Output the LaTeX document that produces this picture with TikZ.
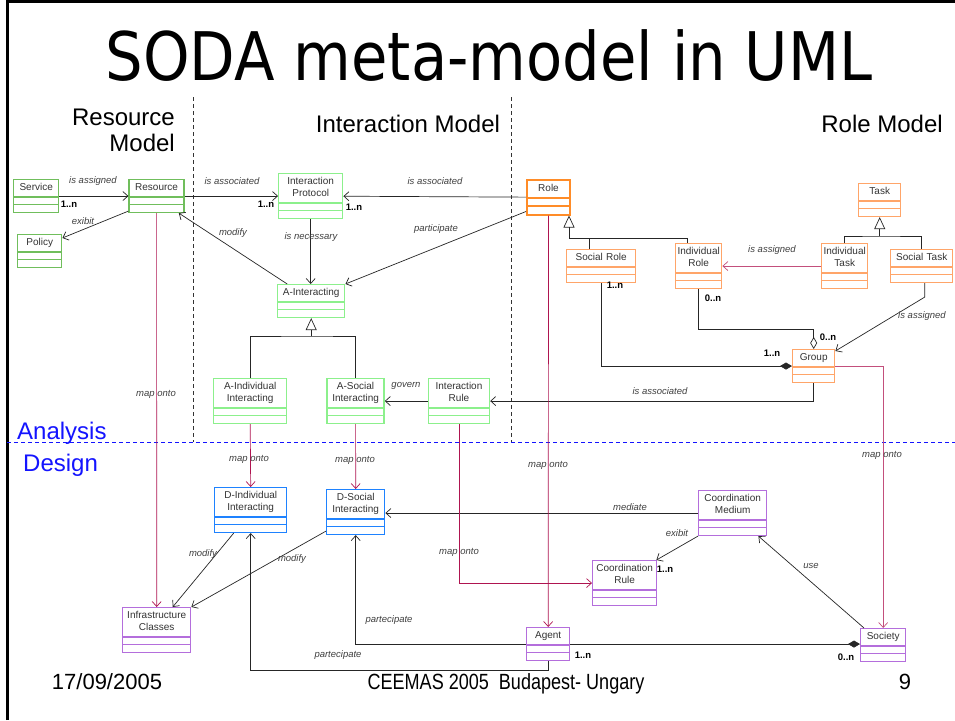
\documentclass[tikz,border=0pt]{standalone}
\usepackage{fontspec}
\setmainfont{Liberation Sans}
\newfontfamily\titlefont{DejaVu Sans}
\usetikzlibrary{positioning}
\usetikzlibrary{shapes.multipart}
\usetikzlibrary{arrows.meta, calc}
\definecolor{ResGreen}{RGB}{112,190,92}
\definecolor{IntGreen}{RGB}{140,240,140}
\definecolor{RoleOrange}{RGB}{255,140,40}
\definecolor{RoleLight}{RGB}{255,165,105}
\definecolor{DesBlue}{RGB}{30,130,255}
\definecolor{DesPurple}{RGB}{180,110,220}
\definecolor{MapRed}{RGB}{175,20,80}
\definecolor{TextBlue}{RGB}{20,20,255}
% class name plus two empty compartments
\newcommand{\umlcls}[1]{\strut#1\strut\nodepart{two}\rule{0pt}{2pt}\nodepart{three}\rule{0pt}{2.5pt}}

\begin{document}
\begin{tikzpicture}[x=1pt, y=-1pt,
	cls/.style={rectangle split, rectangle split parts=3, draw, fill=white, line width=1.4pt,
		anchor=north west, align=center, text width=#1pt, inner xsep=1pt, inner ysep=2pt,
		font=\fontsize{10}{12}\selectfont, text=black!80},
	plain/.style={draw=black!85, line width=0.7pt},
	assoc/.style={plain, -{Straight Barb[length=5pt, width=9pt, line width=0.7pt]}},
	mapto/.style={assoc, draw=MapRed},
	gen/.style={plain, -{Triangle[open, length=12pt, width=11pt]}},
	aggr/.style={plain, -{Diamond[open, length=12pt, width=7pt]}},
	comp/.style={plain, -{Diamond[length=12pt, width=7pt]}},
	lbl/.style={font=\fontsize{9.5}{11}\selectfont\itshape, text=black!75, inner sep=0pt},
	mult/.style={font=\fontsize{9.5}{11}\selectfont\bfseries, inner sep=0pt},
	head/.style={font=\fontsize{24}{26}\selectfont, inner sep=0pt},
	foot/.style={font=\fontsize{22}{24}\selectfont, anchor=base, inner sep=0pt}]

	\useasboundingbox[fill=white] (0,0) rectangle (955,720);
	\draw[line width=3pt] (7.5,720) -- (7.5,1.5) -- (955,1.5);

	% Headings
	\node[font=\titlefont\fontsize{67}{70}\selectfont, xscale=0.884, anchor=base, inner sep=0pt] (title) at (489,80) {SODA meta-model in UML};
	\node[head, align=right, anchor=north east] (hres) at (175,109) {Resource\\Model};
	\node[head, anchor=base] (hint) at (408,132) {Interaction Model};
	\node[head, anchor=base east] (hrole) at (943,132) {Role Model};

	% Separators
	\draw[black!80, dash pattern=on 4pt off 3pt] (193,97) -- (193,442);
	\draw[black!80, dash pattern=on 4pt off 3pt] (511,97) -- (511,442);
	\draw[TextBlue, dash pattern=on 4pt off 3pt] (7,442) -- (955,442);
	\node[head, text=TextBlue, anchor=base west] (lana) at (17,439) {Analysis};
	\node[head, text=TextBlue, anchor=base west] (ldes) at (23,471) {Design};

	% Resource model
	\node[cls=43, draw=ResGreen] (service) at (13,179) {\umlcls{Service}};
	\node[cls=53, draw=ResGreen, right=69pt of service] (resource) {\umlcls{Resource}};
	\node[cls=42, draw=ResGreen] (policy) at (17,234) {\umlcls{Policy}};

	% Interaction model
	\node[cls=62, draw=IntGreen] (iprot) at (278,173) {\umlcls{Interaction\\Protocol}};
	\node[cls=65, draw=IntGreen] (ainter) at (277,284) {\umlcls{A-Interacting}};
	\node[cls=71, draw=IntGreen] (aind) at (213,378) {\umlcls{A-Individual\\Interacting}};
	\node[cls=55, draw=IntGreen, right=39pt of aind] (asoc) {\umlcls{A-Social\\Interacting}};
	\node[cls=59, draw=IntGreen, right=43pt of asoc] (irule) {\umlcls{Interaction\\Rule}};

	% Role model
	\node[cls=41, draw=RoleOrange, line width=2pt] (role) at (526,179) {\umlcls{Role}};
	\node[cls=67, draw=RoleLight] (srole) at (566,249) {\umlcls{Social Role}};
	\node[cls=44, draw=RoleLight] (irole) at (675,243) {\umlcls{Individual\\Role}};
	\node[cls=40, draw=RoleLight] (task) at (858,183) {\umlcls{Task}};
	\node[cls=44, draw=RoleLight] (itask) at (821,243) {\umlcls{Individual\\Task}};
	\node[cls=60, draw=RoleLight] (stask) at (890,249) {\umlcls{Social Task}};
	\node[cls=40, draw=RoleLight] (group) at (792,349) {\umlcls{Group}};

	% Design
	\node[cls=70, draw=DesBlue] (dind) at (214,487) {\umlcls{D-Individual\\Interacting}};
	\node[cls=56, draw=DesBlue] (dsoc) at (326,489) {\umlcls{D-Social\\Interacting}};
	\node[cls=66, draw=DesPurple] (infra) at (122,607) {\umlcls{Infrastructure\\Classes}};
	\node[cls=66, draw=DesPurple] (cmed) at (698,490) {\umlcls{Coordination\\Medium}};
	\node[cls=62, draw=DesPurple] (crule) at (592,560) {\umlcls{Coordination\\Rule}};
	\node[cls=41, draw=DesPurple] (agent) at (526,627) {\umlcls{Agent}};
	\node[cls=43, draw=DesPurple] (society) at (860,628) {\umlcls{Society}};

	% Associations
	\draw[assoc] (service) -- (resource);
	\draw[assoc] ([yshift=2pt]resource.south west) -- ([yshift=-4pt]policy.north east);
	\draw[assoc] (resource) -- (iprot);
	\draw[assoc] (role) -- (iprot);
	\draw[assoc] ([xshift=-24pt]ainter.north) -- ([xshift=-6pt]resource.south east);
	\draw[assoc] (iprot.south) -- (iprot.south |- ainter.north);
	\draw[assoc] ([yshift=4pt]role.south west) -- (ainter.north east);
	\draw[assoc] (irule.west) -- (irule.west -| asoc.east);
	\draw[assoc] (group.south) |- (irule.east);
	\draw[assoc, draw=MapRed!75] (itask.west) -- (irole.east);
	\draw[assoc] ([xshift=3pt]stask.south) -- ++(0,14) -- ([yshift=-2pt]group.north east);
	\draw[aggr] (irole.south) |- ($(group.north)+(0,-20)$) -- (group.north);
	\draw[comp] (srole.south) |- (group.west);
	\draw[assoc] (cmed.west) -- (cmed.west -| dsoc.east);
	\draw[assoc] (cmed.south west) -- ([xshift=-1pt]crule.north east);
	\draw[assoc] ([xshift=4pt]society.north west) -- ([xshift=-9pt]cmed.south east);
	\draw[comp] (agent.east) -- (agent.east -| society.west);
	\draw[assoc] (agent.west) -| (dsoc.south);
	\draw[assoc] (agent.south) -- ++(0,9) -| (dind.south);
	\draw[assoc] ([xshift=-17pt]dind.south) -- ([xshift=16pt]infra.north);
	\draw[assoc] ([yshift=4pt]dsoc.south west) -- (infra.north east);

	% Generalizations
	\coordinate (genA) at ($(ainter.south |- aind.north)+(0,-42)$);
	\draw[plain] (aind.north) |- (genA) -| (asoc.north);
	\draw[gen] (genA) -- (ainter.south);
	\coordinate (genR) at ($(role.south east |- srole.north)+(-2,-11)$);
	\draw[plain] (genR) -| ([xshift=-11pt]irole.north);
	\draw[plain] ([xshift=-12pt]srole.north) -- ([xshift=-12pt]srole.north |- genR);
	\draw[gen] (genR) -- (genR |- role.south);
	\coordinate (genT) at ($(task.south |- itask.north)+(0,-7)$);
	\draw[plain] (itask.north) |- (genT) -| (stask.north);
	\draw[gen] (genT) -- (task.south);

	% Map onto
	\draw[mapto] (role.south) -- (agent.north);
	\draw[mapto] (resource.south) -- (infra.north);
	\draw[mapto] (aind.south) -- (dind.north);
	\draw[mapto] (asoc.south) -- (dsoc.north);
	\draw[mapto] (irule.south) |- (crule.west);
	\draw[mapto, draw=MapRed!75] (group.east) -| (society.north);

	% Labels
	\node[lbl] (l1) at (93,181) {is assigned};
	\node[lbl] (l2) at (83,221) {exibit};
	\node[lbl] (l3) at (232,181) {is associated};
	\node[lbl] (l4) at (435,181) {is associated};
	\node[lbl] (l5) at (233,233) {modify};
	\node[lbl] (l6) at (311,237) {is necessary};
	\node[lbl] (l7) at (436,229) {participate};
	\node[lbl] (l8) at (406,386) {govern};
	\node[lbl] (l9) at (660,391) {is associated};
	\node[lbl] (l10) at (772,250) {is assigned};
	\node[lbl] (l11) at (922,316) {is assigned};
	\node[lbl] (l12) at (156,394) {map onto};
	\node[lbl] (l13) at (249,459) {map onto};
	\node[lbl] (l14) at (355,460) {map onto};
	\node[lbl] (l15) at (548,465) {map onto};
	\node[lbl] (l16) at (882,455) {map onto};
	\node[lbl] (l17) at (459,552) {map onto};
	\node[lbl] (l18) at (630,507) {mediate};
	\node[lbl] (l19) at (677,533) {exibit};
	\node[lbl] (l20) at (811,566) {use};
	\node[lbl] (l21) at (389,620) {partecipate};
	\node[lbl] (l22) at (338,655) {partecipate};
	\node[lbl] (l23) at (203,554) {modify};
	\node[lbl] (l24) at (292,559) {modify};

	% Multiplicities
	\node[mult] (m1) at (69,204) {1..n};
	\node[mult] (m2) at (266,204) {1..n};
	\node[mult] (m3) at (354,207) {1..n};
	\node[mult] (m4) at (615,285) {1..n};
	\node[mult] (m5) at (713,298) {0..n};
	\node[mult] (m6) at (828,337) {0..n};
	\node[mult] (m7) at (772,353) {1..n};
	\node[mult] (m8) at (665,569) {1..n};
	\node[mult] (m9) at (583,655) {1..n};
	\node[mult] (m10) at (846,657) {0..n};

	% Footer
	\node[foot] (fdate) at (107,689) {17/09/2005};
	\node[foot, xscale=0.82] (fconf) at (506,689) {CEEMAS 2005\ \ Budapest- Ungary};
	\node[foot] (fpage) at (905,689) {9};
\end{tikzpicture}
\end{document}
